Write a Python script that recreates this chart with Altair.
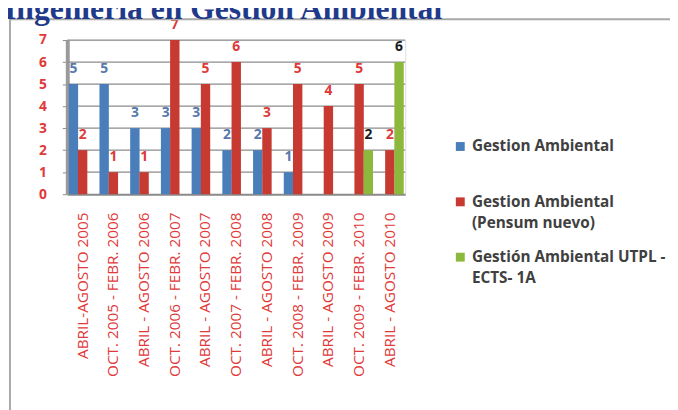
import altair as alt
import pandas as pd

title_text = "Ingeniería en Gestión Ambiental"
periods = [
    "ABRIL-AGOSTO 2005", "OCT. 2005 - FEBR. 2006", "ABRIL - AGOSTO 2006",
    "OCT. 2006 - FEBR. 2007", "ABRIL - AGOSTO 2007", "OCT. 2007 - FEBR. 2008",
    "ABRIL - AGOSTO 2008", "OCT. 2008 - FEBR. 2009", "ABRIL - AGOSTO 2009",
    "OCT. 2009 - FEBR. 2010", "ABRIL - AGOSTO 2010",
]
series = [
    "Gestion Ambiental",
    "Gestion Ambiental (Pensum nuevo)",
    "Gestión Ambiental UTPL - ECTS- 1A",
]
legend_lines = [
    ["Gestion Ambiental"],
    ["Gestion Ambiental", "(Pensum nuevo)"],
    ["Gestión Ambiental UTPL -", "ECTS- 1A"],
]
gestion = [5, 5, 3, 3, 3, 2, 2, 1, 0, 0, 0]
pensum = [2, 1, 1, 7, 5, 6, 3, 5, 4, 5, 2]
utpl = [0, 0, 0, 0, 0, 0, 0, 0, 0, 2, 6]
y_ticks = [0, 1, 2, 3, 4, 5, 6, 7]

bar_colors = ["#4A7EBB", "#C63A32", "#8DB83E"]
label_colors = ["#5679AC", "#E0393A", "#1A1A1A"]

rows = []
for s, vals, lc in zip(series, [gestion, pensum, utpl], label_colors):
    for p, v in zip(periods, vals):
        rows.append({"periodo": p, "serie": s, "valor": v, "lc": lc})
df = pd.DataFrame(rows)
grid_df = pd.DataFrame({"valor": y_ticks[1:]})

expr = "datum.label"
for s, lines in reversed(list(zip(series, legend_lines))):
    arr = "[" + ",".join("'" + l + "'" for l in lines) + "]"
    expr = f"datum.label == '{s}' ? {arr} : ({expr})"

x_axis = alt.Axis(
    title=None, labelAngle=-90, labelColor="#E03A3A", labelFont="Open Sans",
    labelFontSize=15.5, labelPadding=18, ticks=False, domainColor="#8A8A8A",
    domainWidth=2, labelLimit=300,
)
y_axis = alt.Axis(
    title=None, values=y_ticks, labelColor="#E03A3A",
    labelFont="Open Sans", labelFontWeight="bold", labelFontSize=14,
    labelPadding=16, tickSize=5, tickColor="#8A8A8A", domainColor="#9A9A9A",
    domainWidth=4, grid=False, labelOverlap=False,
)
y_scale = alt.Scale(domain=[0, 7])
x_enc = alt.X("periodo:N", sort=periods,
              scale=alt.Scale(paddingInner=0.1, paddingOuter=0.05), axis=x_axis)
y_enc = alt.Y("valor:Q", scale=y_scale, axis=y_axis)
xoff = alt.XOffset("serie:N", sort=series, scale=alt.Scale(paddingInner=0, paddingOuter=0))

one = pd.DataFrame({"a": [0]})
frame = alt.Chart(one).mark_rect(
    filled=False, stroke="#A8A8A8", strokeWidth=2
).encode(
    x=alt.value(-58), x2=alt.value(700), y=alt.value(-21), y2=alt.value(500)
)
title = alt.Chart(one).mark_text(
    align="left", baseline="alphabetic", font="Liberation Serif", fontSize=32,
    fontWeight="bold", color="#1F3A8A",
).encode(x=alt.value(-64), y=alt.value(-21), text=alt.value(title_text))

grid = alt.Chart(grid_df).mark_rule(color="#8C8C8C", strokeWidth=1.2).encode(
    y=y_enc, x=alt.value(0), x2=alt.value(342)
)

bars = alt.Chart(df).mark_bar(size=9.5, xOffset=3.5).encode(
    x=x_enc,
    xOffset=xoff,
    y=y_enc,
    color=alt.Color(
        "serie:N", sort=series,
        scale=alt.Scale(domain=series, range=bar_colors),
        legend=alt.Legend(
            title=None, orient="none", legendX=390, legendY=100,
            symbolType="square", symbolSize=81, symbolStrokeWidth=0,
            labelFont="Open Sans", labelFontWeight="bold", labelFontSize=15.5,
            labelColor="#404040", labelExpr=expr, labelLimit=300,
            rowPadding=18, labelBaseline="middle", gridAlign="all",
        ),
    ),
)

texts = alt.Chart(df).transform_filter("datum.valor > 0").mark_text(
    baseline="bottom", dy=-8, xOffset=3.5, font="Open Sans", fontWeight="bold", fontSize=14
).encode(
    x=x_enc,
    xOffset=xoff,
    y=y_enc,
    text="valor:Q",
    color=alt.Color("lc:N", scale=None),
)

chart = alt.layer(grid, bars, texts, frame, title).properties(
    width=342, height=156,
    autosize=alt.AutoSizeParams(type="none"),
    padding={"left": 60, "top": 30, "right": 268, "bottom": 216},
    background="white",
).configure_view(fill="#E6E6E6", stroke=None).configure(
    style={"guide-label": {"lineHeight": 21}}
)

chart.save("out.html", embed_options={"renderer": "svg", "actions": False})
